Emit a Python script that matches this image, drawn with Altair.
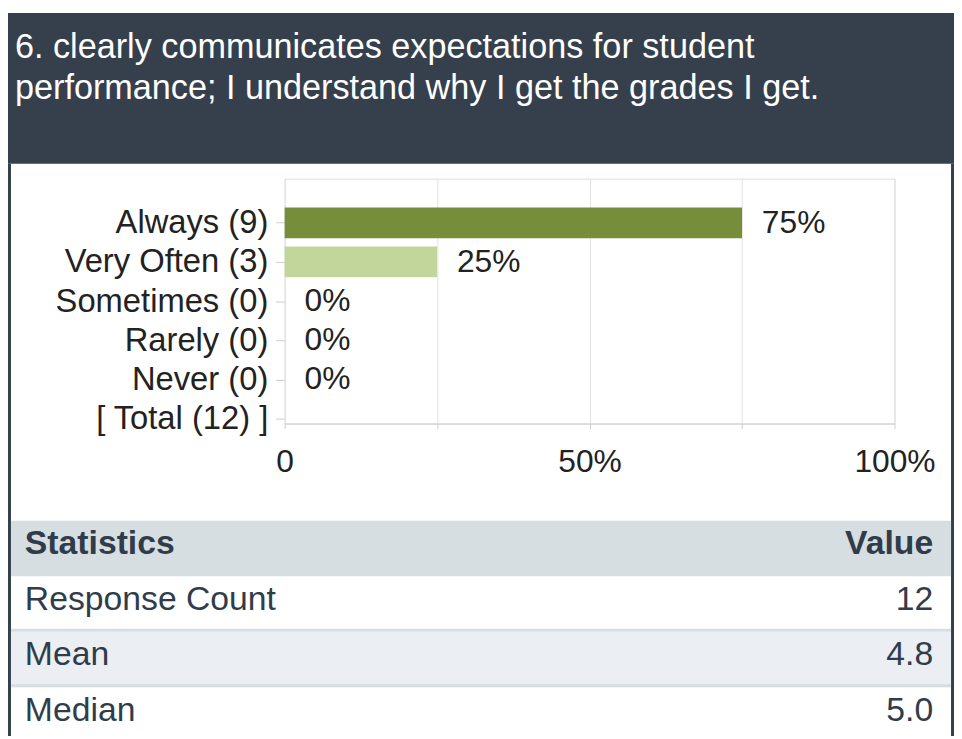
import altair as alt
import pandas as pd

# ---------------- data ----------------
categories = ["Always", "Very Often", "Sometimes", "Rarely", "Never"]
counts = [9, 3, 0, 0, 0]
percents = [75, 25, 0, 0, 0]
total_count = 12
bar_colors = ["#768e3a", "#c2d69b", "#c2d69b", "#c2d69b", "#c2d69b"]
x_ticks = [0, 25, 50, 75, 100]
title_lines = [
    "6. clearly communicates expectations for student",
    "performance; I understand why I get the grades I get.",
]
stat_names = ["Statistics", "Response Count", "Mean", "Median"]
stat_values = ["Value", "12", "4.8", "5.0"]

row_labels = [f"{c} ({n})" for c, n in zip(categories, counts)] + [f"[ Total ({total_count}) ]"]

bars_df = pd.DataFrame({
    "cat": categories,
    "idx": list(range(1, len(categories) + 1)),
    "pct": percents,
    "pct_text": [f"{p}%" for p in percents],
})
table_df = pd.DataFrame({"name": stat_names, "value": stat_values, "row": list(range(len(stat_names)))})
one = pd.DataFrame({"k": [0]})

FONT = "Liberation Sans"
TXT = "#222222"
TBL_TXT = "#313c4a"
HEAD = "#36404d"

# ---------------- header ----------------
header_bg = alt.Chart(one).mark_rect(color=HEAD).encode(
    x=alt.value(-279), x2=alt.value(675), y=alt.value(-167), y2=alt.value(-15))
header_txt = alt.Chart(one).mark_text(
    text=title_lines, align="left", baseline="alphabetic", fontSize=34.5,
    lineHeight=42, color="#ffffff", font=FONT).encode(x=alt.value(-272), y=alt.value(-122))
left_border = alt.Chart(one).mark_rect(color=HEAD).encode(
    x=alt.value(-279), x2=alt.value(-276), y=alt.value(-15), y2=alt.value(600))
right_border = alt.Chart(one).mark_rect(color=HEAD).encode(
    x=alt.value(672), x2=alt.value(675), y=alt.value(-15), y2=alt.value(600))

# ---------------- bar chart ----------------
label_expr = "[" + ", ".join(["''"] + [f"'{l}'" for l in row_labels]) + "][datum.value]"
y_scale = alt.Scale(domain=[0, 6], reverse=True, nice=False, zero=False)
x_scale = alt.Scale(domain=[0, 100], nice=False)

y_axis = alt.Axis(values=[1, 2, 3, 4, 5, 6], labelExpr=label_expr, domain=False, grid=False,
                  ticks=True, tickSize=9, tickColor="#cccccc", labelFontSize=33, labelFont=FONT,
                  labelColor=TXT, labelPadding=8, title=None, labelLimit=400)
x_axis = alt.Axis(values=x_ticks,
                  labelExpr="datum.value == 0 ? '0' : (datum.value % 50 == 0 ? datum.value + '%' : '')",
                  grid=True, gridColor="#e2e2e2", domainColor="#cccccc", tickColor="#cccccc",
                  tickSize=5, labelFontSize=32, labelFont=FONT, labelColor=TXT, labelPadding=18,
                  title=None, labelFlush=False, labelOverlap=False)

bars = alt.Chart(bars_df).mark_bar(orient="horizontal", size=31).encode(
    x=alt.X("pct:Q", scale=x_scale, axis=x_axis),
    y=alt.Y("idx:Q", scale=y_scale, axis=y_axis),
    color=alt.Color("cat:N", scale=alt.Scale(domain=categories, range=bar_colors), legend=None),
)
bar_txt = alt.Chart(bars_df).mark_text(
    align="left", baseline="middle", dx=20, fontSize=32, color=TXT, font=FONT).encode(
    x=alt.X("pct:Q", scale=x_scale),
    y=alt.Y("idx:Q", scale=y_scale),
    text="pct_text:N",
)
bar_layer = alt.layer(bars, bar_txt)

# ---------------- statistics table ----------------
t_scale = alt.Scale(domain=[0, 4], range=[345, 569], nice=False, zero=False)
tbase = alt.Chart(table_df).transform_calculate(
    row_end="datum.row + 1", text_y="datum.row + 0.6", sep_top="datum.row + 1 - 3/56")

head_rect = tbase.transform_filter("datum.row == 0").mark_rect(color="#d6dee2").encode(
    x=alt.value(-276), x2=alt.value(672),
    y=alt.Y("row:Q", scale=t_scale, axis=None), y2="row_end:Q")
shade_rect = tbase.transform_filter("datum.row == 2").mark_rect(color="#ebeff3").encode(
    x=alt.value(-276), x2=alt.value(672),
    y=alt.Y("row:Q", scale=t_scale, axis=None), y2="row_end:Q")
sep_rect = tbase.transform_filter("datum.row == 1 || datum.row == 2").mark_rect(color="#d6dee2").encode(
    x=alt.value(-276), x2=alt.value(672),
    y=alt.Y("sep_top:Q", scale=t_scale, axis=None), y2="row_end:Q")

head_names = tbase.transform_filter("datum.row == 0").mark_text(
    align="left", baseline="alphabetic", fontSize=34, fontWeight="bold", color=TBL_TXT, font=FONT).encode(
    x=alt.value(-262), y=alt.Y("text_y:Q", scale=t_scale, axis=None), text="name:N")
head_vals = tbase.transform_filter("datum.row == 0").mark_text(
    align="right", baseline="alphabetic", fontSize=34, fontWeight="bold", color=TBL_TXT, font=FONT).encode(
    x=alt.value(654), y=alt.Y("text_y:Q", scale=t_scale, axis=None), text="value:N")
row_names = tbase.transform_filter("datum.row > 0").mark_text(
    align="left", baseline="alphabetic", fontSize=34, color=TBL_TXT, font=FONT).encode(
    x=alt.value(-262), y=alt.Y("text_y:Q", scale=t_scale, axis=None), text="name:N")
row_vals = tbase.transform_filter("datum.row > 0").mark_text(
    align="right", baseline="alphabetic", fontSize=34, color=TBL_TXT, font=FONT).encode(
    x=alt.value(654), y=alt.Y("text_y:Q", scale=t_scale, axis=None), text="value:N")

chart = alt.layer(
    header_bg, header_txt, left_border, right_border,
    head_rect, shade_rect, sep_rect, head_names, head_vals, row_names, row_vals,
    bar_layer,
).resolve_scale(y="independent").properties(
    width=615, height=247,
    autosize=alt.AutoSizeParams(type="none"),
    padding={"left": 279, "top": 169, "right": 60, "bottom": 312},
    background="white",
).configure_view(stroke=None).configure(font=FONT)

chart.save("out.html", embed_options={"renderer": "svg", "actions": False})
